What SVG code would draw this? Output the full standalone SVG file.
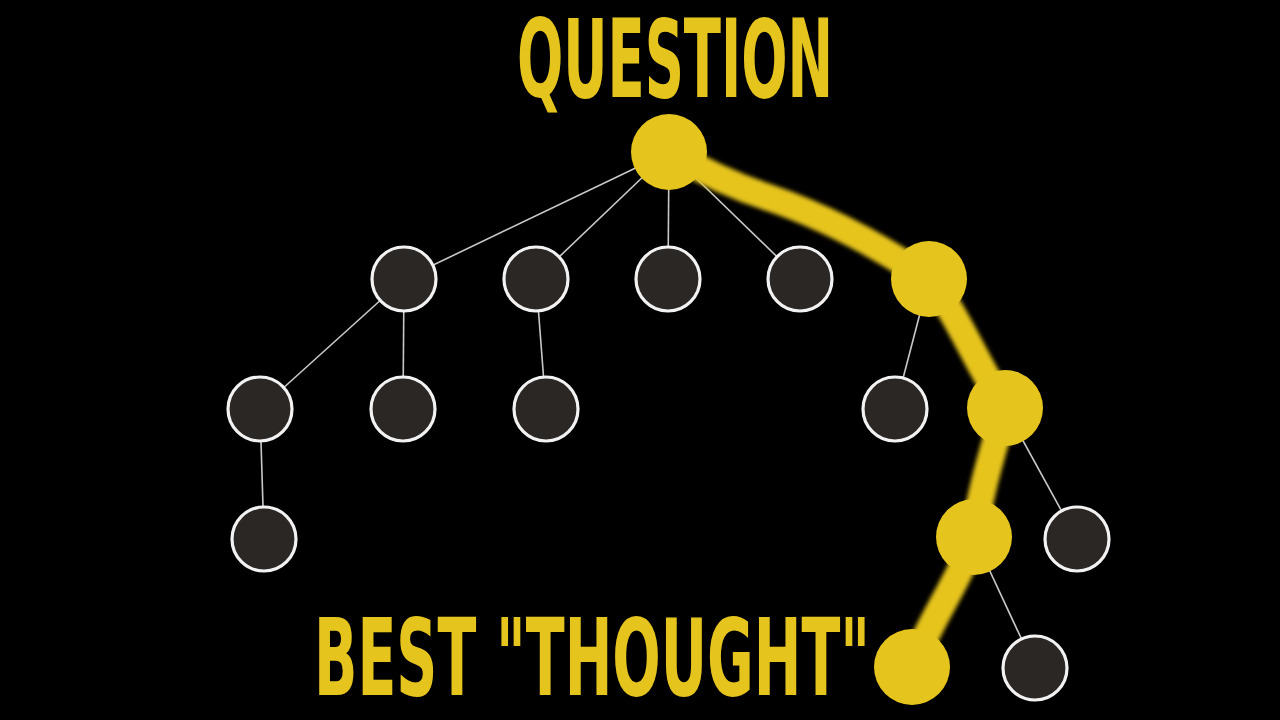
<svg xmlns="http://www.w3.org/2000/svg" width="1280" height="720" viewBox="0 0 1280 720">
<defs>
<filter id="soft" x="-10%" y="-10%" width="120%" height="120%"><feGaussianBlur stdDeviation="2"/></filter>
<style>
.edge{stroke:#c8c8c8;stroke-width:1.6;fill:none}
.dark{fill:#2b2725;stroke:#f2f2f2;stroke-width:3.2}
.best{fill:#e6c41e}
.label{font-family:"DejaVu Sans Condensed","Liberation Sans Narrow","DejaVu Sans",sans-serif;font-weight:bold;fill:#e6c41e}
</style>
</defs>
<rect width="1280" height="720" fill="#000"/>
<g id="connectors">
<line class="edge" x1="669" y1="152" x2="404" y2="279"/>
<line class="edge" x1="669" y1="152" x2="536" y2="279"/>
<line class="edge" x1="669" y1="152" x2="668" y2="279"/>
<line class="edge" x1="669" y1="152" x2="800" y2="279"/>
<line class="edge" x1="404" y1="279" x2="260" y2="409"/>
<line class="edge" x1="404" y1="279" x2="403" y2="409"/>
<line class="edge" x1="536" y1="279" x2="546" y2="409"/>
<line class="edge" x1="929" y1="279" x2="895" y2="409"/>
<line class="edge" x1="1005" y1="408" x2="1077" y2="539"/>
<line class="edge" x1="974" y1="537" x2="1035" y2="668"/>
<line class="edge" x1="260" y1="409" x2="264" y2="539"/>
<path id="best-path" d="M669 152 C700 170 730 185 770 198 C820 215 870 240 929 279 C955 310 975 360 1005 408 C995 445 980 490 974 537 C960 580 930 620 912 667" stroke="#e6c41e" stroke-width="27" fill="none" stroke-linecap="round" stroke-linejoin="round" filter="url(#soft)"/>
</g>
<g id="n-root"><circle class="best" cx="669" cy="152" r="38"/></g>
<g id="n-a"><circle class="dark" cx="404" cy="279" r="32"/></g>
<g id="n-b"><circle class="dark" cx="536" cy="279" r="32"/></g>
<g id="n-c"><circle class="dark" cx="668" cy="279" r="32"/></g>
<g id="n-d"><circle class="dark" cx="800" cy="279" r="32"/></g>
<g id="n-e"><circle class="best" cx="929" cy="279" r="38"/></g>
<g id="n-a1"><circle class="dark" cx="260" cy="409" r="32"/></g>
<g id="n-a2"><circle class="dark" cx="403" cy="409" r="32"/></g>
<g id="n-b1"><circle class="dark" cx="546" cy="409" r="32"/></g>
<g id="n-e1"><circle class="dark" cx="895" cy="409" r="32"/></g>
<g id="n-e2"><circle class="best" cx="1005" cy="408" r="38"/></g>
<g id="n-a11"><circle class="dark" cx="264" cy="539" r="32"/></g>
<g id="n-e21"><circle class="best" cx="974" cy="537" r="38"/></g>
<g id="n-e22"><circle class="dark" cx="1077" cy="539" r="32"/></g>
<g id="n-e211"><circle class="best" cx="912" cy="667" r="38"/></g>
<g id="n-e212"><circle class="dark" cx="1035" cy="668" r="32"/></g>
<g id="t-question"><text class="label" x="517" y="97" font-size="108" textLength="316" lengthAdjust="spacingAndGlyphs">QUESTION</text></g>
<g id="t-best"><text class="label" x="314" y="695" font-size="107" textLength="556" lengthAdjust="spacingAndGlyphs">BEST "THOUGHT"</text></g>
</svg>
